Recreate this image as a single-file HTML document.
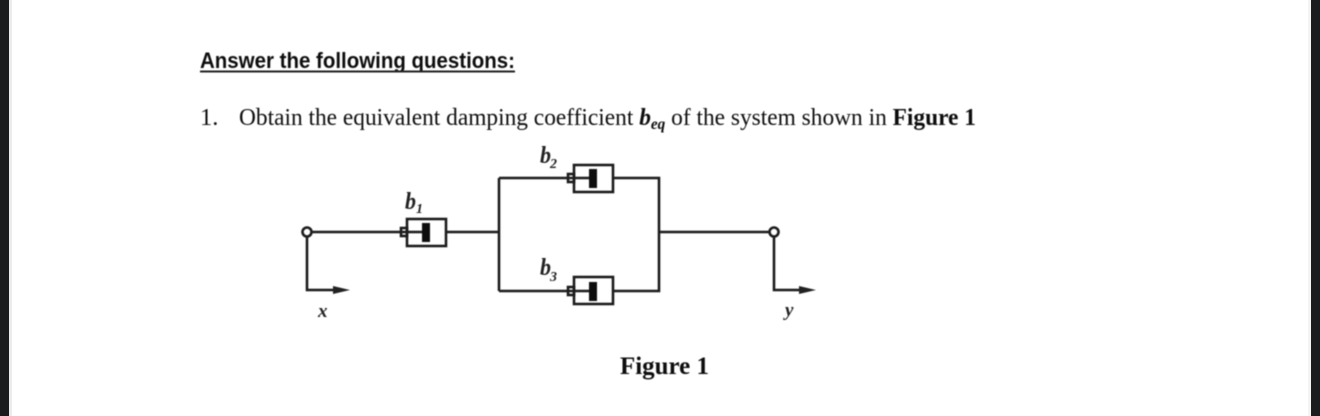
<!DOCTYPE html>
<html>
<head>
<meta charset="utf-8">
<style>
html,body{margin:0;padding:0;width:1320px;height:416px;overflow:hidden;background:#fff}
svg{display:block}
.s{font-family:"Liberation Serif",serif;fill:#111}
.l{font-family:"Liberation Serif",serif;font-style:italic;font-weight:bold;fill:#222}
.w{fill:none;stroke:#1c1c1c;stroke-width:2.6}
</style>
</head>
<body>
<svg width="1320" height="416" viewBox="0 0 1320 416" xmlns="http://www.w3.org/2000/svg">
<defs><filter id="b" x="-5%" y="-5%" width="110%" height="110%"><feGaussianBlur stdDeviation="0.5"/></filter></defs>
<rect width="1320" height="416" fill="#fff"/>
<rect x="0" y="0" width="9" height="416" fill="#1b1c1e"/>
<rect x="9" y="0" width="3" height="416" fill="#ececec"/>
<rect x="1308" y="0" width="3" height="416" fill="#f4f4f4"/>
<rect x="1311" y="0" width="9" height="416" fill="#1b1c1e"/>
<g filter="url(#b)">
<text x="200" y="68" font-family="Liberation Sans,sans-serif" font-weight="bold" font-size="22" fill="#111" textLength="315" lengthAdjust="spacingAndGlyphs">Answer the following questions:</text>
<rect x="200" y="70.500" width="315" height="2" fill="#222"/>
<text class="s" x="200" y="125" font-size="24.5">1.</text>
<text class="s" x="239" y="125" font-size="24.5" textLength="737" lengthAdjust="spacingAndGlyphs">Obtain the equivalent damping coefficient <tspan font-weight="bold" font-style="italic">b</tspan><tspan font-weight="bold" font-style="italic" font-size="16" dy="4">eq</tspan><tspan dy="-4"> of the system shown in </tspan><tspan font-weight="bold">Figure 1</tspan></text>
<text class="s" x="620" y="374" font-size="25" font-weight="bold" textLength="89" lengthAdjust="spacingAndGlyphs">Figure 1</text>

<!-- wires -->
<circle class="w" cx="307" cy="232" r="4.5"/>
<path class="w" d="M311.500 232H400M446 232H499M307 236.500V290H340"/>
<path class="w" d="M499 178V291M499 178H567M499 291H567"/>
<path class="w" d="M613 178H659V291H613M659 232H769"/>
<circle class="w" cx="774" cy="232" r="4.5"/>
<path class="w" d="M774 236.500V290H806"/>
<path d="M333 286L350 290L333 294Z" fill="#222"/>
<path d="M799 286L816 290L799 294Z" fill="#222"/>

<!-- damper 1 -->
<rect class="w" x="407" y="219" width="39" height="27"/>
<rect class="w" x="401" y="228" width="6" height="8" stroke-width="1.500"/>
<path class="w" d="M400 232H423"/>
<rect x="422" y="223" width="8" height="19" fill="#111"/>
<!-- damper 2 -->
<rect class="w" x="574" y="165" width="39" height="27"/>
<rect class="w" x="568" y="174" width="6" height="8" stroke-width="1.500"/>
<path class="w" d="M567 178H590"/>
<rect x="589" y="169" width="8" height="19" fill="#111"/>
<!-- damper 3 -->
<rect class="w" x="574" y="277" width="39" height="27"/>
<rect class="w" x="568" y="287" width="6" height="8" stroke-width="1.500"/>
<path class="w" d="M567 291H590"/>
<rect x="589" y="282" width="8" height="19" fill="#111"/>

<!-- labels -->
<text class="l" x="405" y="209" font-size="24" textLength="11" lengthAdjust="spacingAndGlyphs">b</text>
<text class="l" x="416" y="213" font-size="14">1</text>
<text class="l" x="540" y="163" font-size="24" textLength="11" lengthAdjust="spacingAndGlyphs">b</text>
<text class="l" x="550" y="168" font-size="14">2</text>
<text class="l" x="540" y="275" font-size="24" textLength="11" lengthAdjust="spacingAndGlyphs">b</text>
<text class="l" x="550" y="281" font-size="14">3</text>
<text class="l" x="318" y="317" font-size="19">x</text>
<text class="l" x="785" y="316" font-size="19">y</text>
</g>
</svg>
</body>
</html>
